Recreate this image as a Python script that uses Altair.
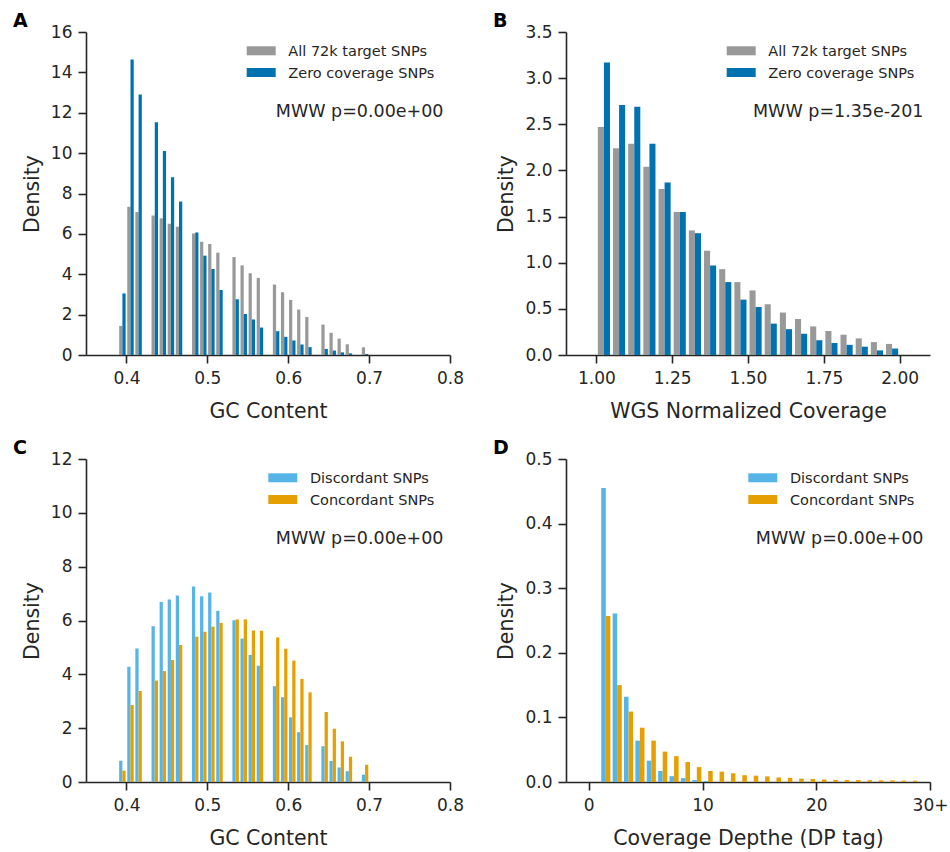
import altair as alt
import pandas as pd

# ---------------------------------------------------------------------------
# Histogram densities (left bin edges + bar heights); empty bins are omitted
# ---------------------------------------------------------------------------

# GC content, bin width 0.01
gc_bins = [0.39, 0.40, 0.41,
           0.43, 0.44, 0.45, 0.46,
           0.48, 0.49, 0.50, 0.51,
           0.53, 0.54, 0.55, 0.56,
           0.58, 0.59, 0.60, 0.61, 0.62,
           0.64, 0.65, 0.66, 0.67,
           0.69]
gc_all = [1.44, 7.34, 7.08,
          6.91, 6.77, 6.50, 6.35,
          6.02, 5.61, 5.50, 5.07,
          4.85, 4.44, 4.05, 3.82,
          3.49, 3.11, 2.73, 2.25, 1.88,
          1.51, 1.10, 0.81, 0.53,
          0.38]
gc_zero = [3.05, 14.64, 12.90,
           11.53, 10.10, 8.80, 7.60,
           6.07, 4.92, 4.26, 3.22,
           2.76, 2.03, 1.76, 1.36,
           1.18, 0.90, 0.72, 0.52, 0.39,
           0.30, 0.22, 0.13, 0.08,
           0.05]
gc_discordant = [0.79, 4.28, 4.96,
                 5.79, 6.69, 6.78, 6.93,
                 7.26, 6.90, 7.04, 6.36,
                 6.01, 5.33, 4.72, 4.32,
                 3.56, 3.15, 2.40, 1.85, 1.37,
                 1.33, 0.78, 0.54, 0.40,
                 0.27]
gc_concordant = [0.42, 2.86, 3.38,
                 3.77, 4.12, 4.53, 5.09,
                 5.40, 5.58, 5.77, 5.91,
                 6.04, 6.04, 5.63, 5.62,
                 5.37, 4.95, 4.51, 3.83, 3.33,
                 2.60, 1.98, 1.51, 0.94,
                 0.64]

# WGS normalized coverage, bin width 0.05
cov_bins = [1.00, 1.05, 1.10, 1.15, 1.20, 1.25, 1.30, 1.35, 1.40, 1.45,
            1.50, 1.55, 1.60, 1.65, 1.70, 1.75, 1.80, 1.85, 1.90, 1.95]
cov_all = [2.47, 2.24, 2.29, 2.04, 1.80, 1.55, 1.35, 1.13, 0.93, 0.79,
           0.70, 0.55, 0.46, 0.39, 0.31, 0.26, 0.22, 0.18, 0.14, 0.12]
cov_zero = [3.17, 2.71, 2.69, 2.29, 1.87, 1.55, 1.32, 0.97, 0.79, 0.60,
            0.52, 0.34, 0.28, 0.23, 0.16, 0.13, 0.11, 0.09, 0.05, 0.07]

# Coverage depth (DP tag), bin width 1
dp_bins = [1, 2, 3, 4, 5, 6, 7, 8, 9, 10,
           11, 12, 13, 14, 15, 16, 17, 18, 19, 20,
           21, 22, 23, 24, 25, 26, 27, 28]
dp_discordant = [0.455, 0.261, 0.132, 0.064, 0.033, 0.017, 0.009, 0.006, 0.003, 0.0015,
                 0, 0, 0, 0, 0, 0, 0, 0, 0, 0,
                 0, 0, 0, 0, 0, 0, 0, 0]
dp_concordant = [0.257, 0.150, 0.109, 0.084, 0.064, 0.047, 0.040, 0.031, 0.023, 0.017,
                 0.016, 0.0135, 0.0105, 0.0098, 0.0087, 0.0070, 0.0065, 0.0052, 0.0047, 0.0038,
                 0.0033, 0.0030, 0.0030, 0.0027, 0.0026, 0.0024, 0.0021, 0.0020]

# ---------------------------------------------------------------------------
W, H = 364, 323
TEXT = "#262626"
FONT = "DejaVu Sans"
GRAY, BLUE = "#999999", "#0072B2"
SKY, ORANGE = "#56B4E9", "#E69F00"


def panel(letter, bins, bin_w, names, values, colors, x_domain, x_ticks,
          x_title, y_domain, y_ticks, y_format, pvalue, legend_left,
          x_format=None, x_label_expr=None, anchor=False):
    # two side-by-side bars per bin, each 40% of the bin width
    rows = []
    for i, (name, vals) in enumerate(zip(names, values)):
        for b, v in zip(bins, vals):
            lo = b + bin_w * (0.1 + 0.4 * i)
            rows.append({"lo": lo, "hi": lo + 0.4 * bin_w,
                         "density": v, "series": name})
    df = pd.DataFrame(rows)

    x_axis_args = dict(values=x_ticks, title=x_title)
    if x_format:
        x_axis_args["format"] = x_format
    if x_label_expr:
        x_axis_args["labelExpr"] = x_label_expr

    bars = alt.Chart(df).mark_rect().encode(
        x=alt.X("lo:Q", scale=alt.Scale(domain=x_domain, nice=False, zero=False),
                axis=alt.Axis(**x_axis_args)),
        x2="hi:Q",
        y=alt.Y("density:Q", scale=alt.Scale(domain=y_domain, nice=False),
                axis=alt.Axis(values=y_ticks, format=y_format, title="Density")),
        y2=alt.datum(0),
        color=alt.Color("series:N", scale=alt.Scale(domain=names, range=colors),
                        legend=None),
    )
    layers = [bars]

    # legend in the upper right corner
    for i, (name, color) in enumerate(zip(names, colors)):
        one = pd.DataFrame({"series": [name]})
        yc = 18.8 + 21.7 * i
        layers.append(alt.Chart(one).mark_rect(color=color).encode(
            x=alt.value(legend_left), x2=alt.value(legend_left + 29),
            y=alt.value(yc - 4.5), y2=alt.value(yc + 4.5)))
        layers.append(alt.Chart(one).mark_text(
            align="left", baseline="middle", fontSize=14.5, color=TEXT, font=FONT
        ).encode(x=alt.value(legend_left + 41.6), y=alt.value(yc + 1),
                 text="series:N"))

    # Mann-Whitney-Wilcoxon p-value
    layers.append(alt.Chart(pd.DataFrame({"t": [pvalue]})).mark_text(
        align="right", baseline="alphabetic", fontSize=17.5, color=TEXT, font=FONT
    ).encode(x=alt.value(W - 6.5), y=alt.value(84.5), text="t:N"))

    # panel letter
    layers.append(alt.Chart(pd.DataFrame({"t": [letter]})).mark_text(
        align="left", baseline="alphabetic", fontSize=19, fontWeight="bold",
        color="#000000", font=FONT
    ).encode(x=alt.value(-73), y=alt.value(-5), text="t:N"))

    if anchor:
        # fixes the page origin relative to the first plot area
        layers.append(alt.Chart(pd.DataFrame({"t": [0]})).mark_rule(
            opacity=0, strokeWidth=0.01
        ).encode(x=alt.value(-86), x2=alt.value(-86),
                 y=alt.value(-32), y2=alt.value(-31)))

    return alt.layer(*layers).properties(width=W, height=H)


legend_ab = ["All 72k target SNPs", "Zero coverage SNPs"]
legend_cd = ["Discordant SNPs", "Concordant SNPs"]

pA = panel("A", gc_bins, 0.01, legend_ab, [gc_all, gc_zero], [GRAY, BLUE],
           [0.35, 0.8], [0.4, 0.5, 0.6, 0.7, 0.8], "GC Content",
           [0, 16], [0, 2, 4, 6, 8, 10, 12, 14, 16], "d",
           "MWW p=0.00e+00", 160.7, x_format=".1f", anchor=True)
pB = panel("B", cov_bins, 0.05, legend_ab, [cov_all, cov_zero], [GRAY, BLUE],
           [0.9, 2.1], [1.0, 1.25, 1.5, 1.75, 2.0], "WGS Normalized Coverage",
           [0, 3.5], [0, 0.5, 1.0, 1.5, 2.0, 2.5, 3.0, 3.5], ".1f",
           "MWW p=1.35e-201", 160.7, x_format=".2f")
pC = panel("C", gc_bins, 0.01, legend_cd, [gc_discordant, gc_concordant], [SKY, ORANGE],
           [0.35, 0.8], [0.4, 0.5, 0.6, 0.7, 0.8], "GC Content",
           [0, 12], [0, 2, 4, 6, 8, 10, 12], "d",
           "MWW p=0.00e+00", 182.3, x_format=".1f")
pD = panel("D", dp_bins, 1, legend_cd, [dp_discordant, dp_concordant], [SKY, ORANGE],
           [-2, 30], [0, 10, 20, 30], "Coverage Depthe (DP tag)",
           [0, 0.5], [0, 0.1, 0.2, 0.3, 0.4, 0.5], ".1f",
           "MWW p=0.00e+00", 182.3,
           x_label_expr="datum.value == 30 ? '30+' : datum.label")

chart = alt.concat(
    pA, pB, pC, pD, columns=2, spacing={"row": 104, "column": 116}, bounds="flush"
).resolve_scale(
    color="independent"
).properties(
    padding=0
).configure(
    font=FONT
).configure_view(
    stroke=None
).configure_axis(
    domainColor=TEXT, domainWidth=1.6,
    tickColor=TEXT, tickWidth=1.6, tickSize=8,
    labelFont=FONT, labelFontSize=17, labelColor=TEXT, labelPadding=6,
    labelFlush=False, labelOverlap=False,
    titleFont=FONT, titleFontSize=20.5, titleFontWeight="normal", titleColor=TEXT,
    titlePadding=10, grid=False,
).configure_axisX(
    labelPadding=7.5, titlePadding=15
).configure_axisY(
    titlePadding=8
)

chart.save("out.html", embed_options={"renderer": "svg", "actions": False})
